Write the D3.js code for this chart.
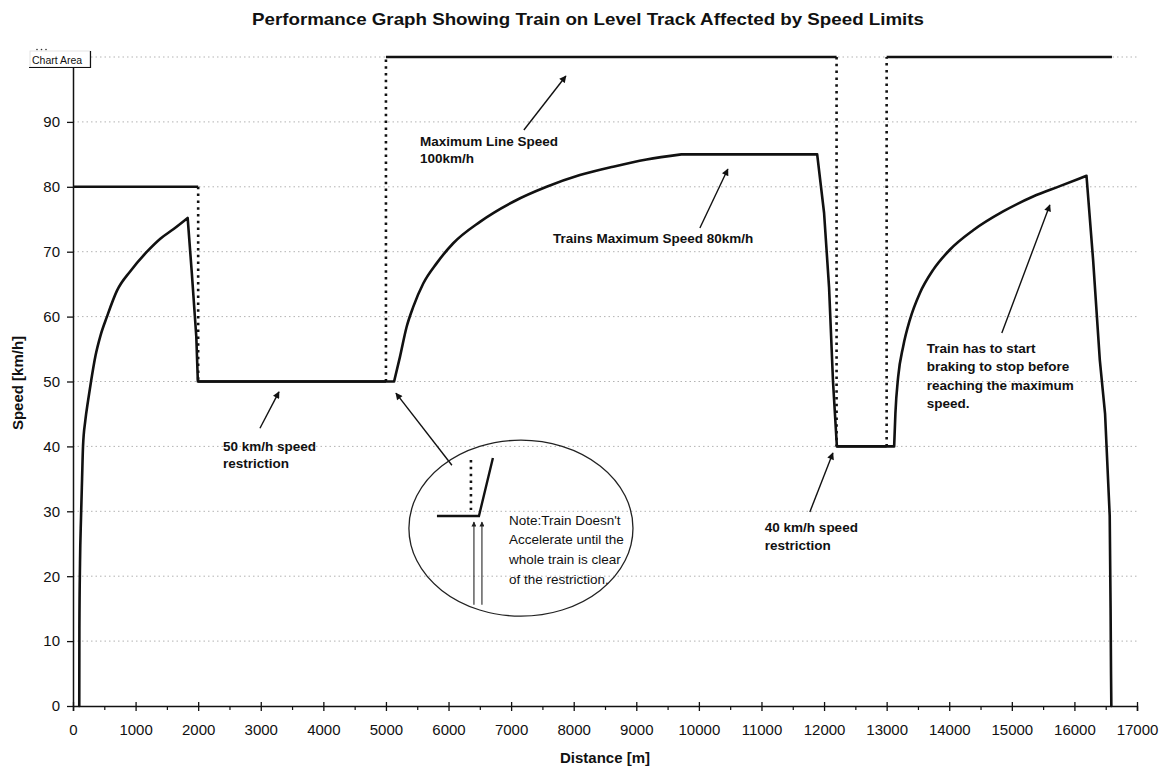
<!DOCTYPE html>
<html><head><meta charset="utf-8">
<script src="https://cdn.jsdelivr.net/npm/d3@7"></script>
<style>
body{margin:0;background:#fff}
svg{display:block}
text{font-family:Arial,"Liberation Sans",sans-serif;fill:#111}
</style>
</head><body>
<svg id="chart" width="1167" height="769"></svg>
<script>
// ---------- data ----------
const chartTitle = "Performance Graph Showing Train on Level Track Affected by Speed Limits";
const xTitle = "Distance [m]";
const yTitle = "Speed [km/h]";
const xTickValues = [0,1000,2000,3000,4000,5000,6000,7000,8000,9000,10000,11000,12000,13000,14000,15000,16000,17000];
const xMinorTicks = [500,1500,2500,3500,4500,5500,6500,7500,8500,9500,10500,11500,12500,13500,14500,15500,16500];
const yTickValues = [0,10,20,30,40,50,60,70,80,90];
const gridValues = [10,20,30,40,50,60,70,80,90,100];

// train speed profile
const trainDistance = [100,102,112,128,145,160,197,240,288,360,437,543,703,916,1182,1395,1608,1832,1900,1970,1995,
  5130,5224,5330,5436,5596,5809,6075,6502,7034,7567,8099,8631,9164,9720,11890,
  12000,12080,12143,12205,13120,13140,13184,13264,13371,13530,13743,14010,14382,14861,15340,15767,16193,
  16299,16406,16490,16564,16578,16585,16590];
const trainSpeed = [0,12,22,29,35,40,44,47,50,54,57,60,64,67,70,72,73.5,75.2,66.5,56.9,50,
  50,53.8,58.4,61.5,65.1,68.2,71.3,74.6,77.7,80,81.8,83.1,84.2,85,85,
  76,64.5,50,40,40,45.1,50.7,55.4,59.5,63.6,67.2,70.3,73.3,76.2,78.5,80.1,81.7,
  68.7,53.3,45,29.3,15,5,0];

// speed limit profile
const limitDistance = [0,2000,2000,5000,5000,12200,12200,13000,13000,16600];
const limitSpeed = [80,80,50,50,100,100,40,40,100,100];

// annotation texts
const noteLineSpeed = ["Maximum Line Speed","100km/h"];
const noteTrainMax = ["Trains Maximum Speed 80km/h"];
const note50 = ["50 km/h speed","restriction"];
const note40 = ["40 km/h speed","restriction"];
const noteBraking = ["Train has to start","braking to stop before","reaching the maximum","speed."];
const noteCircle = ["Note:Train Doesn't","Accelerate until the","whole train is clear","of the restriction."];

// ---------- drawing ----------
const svg = d3.select("#chart");
const x = d3.scaleLinear().domain([0,17000]).range([73,1137]);
const y = d3.scaleLinear().domain([0,100]).range([706,57]);

// arrow markers
const defs = svg.append("defs");
defs.append("marker").attr("id","ah").attr("viewBox","0 0 10 10")
  .attr("refX",9).attr("refY",5).attr("markerWidth",9).attr("markerHeight",7)
  .attr("markerUnits","userSpaceOnUse").attr("orient","auto")
  .append("path").attr("d","M0,0L10,5L0,10z").attr("fill","#111");
defs.append("marker").attr("id","ahs").attr("viewBox","0 0 10 10")
  .attr("refX",9).attr("refY",5).attr("markerWidth",6).attr("markerHeight",5)
  .attr("markerUnits","userSpaceOnUse").attr("orient","auto")
  .append("path").attr("d","M0,0L10,5L0,10z").attr("fill","#222");

// title
svg.append("text").attr("x",588).attr("y",25).attr("text-anchor","middle")
  .attr("font-size","17px").attr("font-weight","bold")
  .attr("textLength",672).attr("lengthAdjust","spacingAndGlyphs").text(chartTitle);

// gridlines
svg.append("g").selectAll("line").data(gridValues).join("line")
  .attr("x1",x(0)).attr("x2",x(17000)).attr("y1",d=>y(d)).attr("y2",d=>y(d))
  .attr("stroke","#b3b3b3").attr("stroke-width",1).attr("stroke-dasharray","1.5,3");

// axes
const axisFont = "Arial, 'Liberation Sans', sans-serif";
const gx = svg.append("g").attr("transform",`translate(0,${y(0)})`)
  .call(d3.axisBottom(x).tickValues(xTickValues).tickSize(5).tickPadding(13).tickFormat(d3.format("d")));
gx.selectAll(".tick line").attr("y1",-4);
gx.selectAll("text").attr("font-size","15px").attr("fill","#222").style("font-family",axisFont);
gx.select(".domain").attr("stroke","#111").attr("stroke-width",1.5);
gx.selectAll(".tick line").attr("stroke","#111").attr("stroke-width",1.3);
const gxm = svg.append("g").attr("transform",`translate(0,${y(0)})`)
  .call(d3.axisBottom(x).tickValues(xMinorTicks).tickSize(4).tickFormat(""));
gxm.select(".domain").remove();
gxm.selectAll(".tick line").attr("stroke","#111").attr("stroke-width",1.2);

const gy = svg.append("g").attr("transform",`translate(${x(0)},0)`)
  .call(d3.axisLeft(y).tickValues(yTickValues).tickSize(6).tickPadding(7).tickSizeOuter(0));
gy.selectAll("text").attr("font-size","15px").attr("fill","#222").style("font-family",axisFont);
gy.select(".domain").attr("stroke","#111").attr("stroke-width",1.5);
gy.selectAll(".tick line").attr("stroke","#111").attr("stroke-width",1.3);

// axis titles
svg.append("text").attr("x",605).attr("y",763).attr("text-anchor","middle")
  .attr("font-size","15px").attr("font-weight","bold").text(xTitle);
svg.append("text").attr("transform",`translate(23,383) rotate(-90)`).attr("text-anchor","middle")
  .attr("font-size","15px").attr("font-weight","bold").text(yTitle);

// speed limit: solid horizontals, dotted verticals
const limitPts = limitDistance.map((d,i)=>[d,limitSpeed[i]]);
const segs = d3.pairs(limitPts);
svg.append("g").selectAll("line").data(segs).join("line")
  .attr("x1",d=>x(d[0][0])).attr("y1",d=>y(d[0][1]))
  .attr("x2",d=>x(d[1][0])).attr("y2",d=>y(d[1][1]))
  .attr("stroke","#111")
  .attr("stroke-width",d=>d[0][1]===d[1][1]?2.4:2.6)
  .attr("stroke-dasharray",d=>d[0][1]===d[1][1]?null:"2.5,4.3");

// train line: split into monotone pieces so peaks/corners stay sharp
const trainPts = trainDistance.map((d,i)=>[d,trainSpeed[i]]);
const pieces = [];
let cur = [trainPts[0]], curSign = null;
for (let i = 1; i < trainPts.length; i++) {
  const s = Math.sign(trainPts[i][1] - trainPts[i-1][1]);
  if (curSign !== null && s !== curSign) { pieces.push({sign:curSign, pts:cur}); cur = [trainPts[i-1]]; }
  curSign = s; cur.push(trainPts[i]);
}
pieces.push({sign:curSign, pts:cur});
const smoothGen = d3.line().x(d=>x(d[0])).y(d=>y(d[1])).curve(d3.curveMonotoneX);
const straightGen = d3.line().x(d=>x(d[0])).y(d=>y(d[1]));
svg.append("path").attr("d", pieces.map(p=>(p.sign>0?smoothGen:straightGen)(p.pts)).join(""))
  .attr("fill","none").attr("stroke","#111").attr("stroke-width",2.6)
  .attr("stroke-linejoin","round").attr("stroke-linecap","round");

// annotation helpers
function note(lines, dx, sy, lh, opts={}){
  const t = svg.append("text").attr("font-size",opts.size||"13.5px")
    .attr("font-weight",opts.weight||"bold");
  lines.forEach((s,i)=>{
    t.append("tspan").attr("x",x(dx)).attr("y",y(sy)+4.8+i*lh).text(s);
  });
}
function arrow(d1,s1,d2,s2,small){
  svg.append("line").attr("x1",x(d1)).attr("y1",y(s1)).attr("x2",x(d2)).attr("y2",y(s2))
    .attr("stroke","#111").attr("stroke-width",small?1:1.4)
    .attr("marker-end",small?"url(#ahs)":"url(#ah)");
}

note(noteLineSpeed,5543,87.1,17.5);
arrow(7204,88.75,7875,97.07);
note(noteTrainMax,7668,72.1,18);
arrow(10016,73.65,10463,82.74);
note(note50,2396,40.06,17.5);
arrow(2987,42.8,3291,48.4);
note(note40,11054,27.58,18);
arrow(11773,29.9,12141,38.98);
note(noteBraking,13642,55.16,18.5);
arrow(14840,57.47,15607,77.2);

// circled note
arrow(6054,37.1,5160,48.2);
svg.append("ellipse").attr("cx",x(7157)).attr("cy",y(27.4))
  .attr("rx",x(1790)-x(0)).attr("ry",y(0)-y(13.56))
  .attr("fill","none").attr("stroke","#222").attr("stroke-width",1.3);
const miniPts = [[5815,29.28],[6486,29.28],[6709,38.2]];
svg.append("path").datum(miniPts)
  .attr("d",d3.line().x(d=>x(d[0])).y(d=>y(d[1])))
  .attr("fill","none").attr("stroke","#111").attr("stroke-width",2.4);
svg.append("line").attr("x1",x(6358)).attr("x2",x(6358)).attr("y1",y(37.9)).attr("y2",y(30.2))
  .attr("stroke","#111").attr("stroke-width",2.6).attr("stroke-dasharray","2.5,4.3");
arrow(6406,15.6,6406,28.35,true);
arrow(6534,15.6,6534,28.35,true);
note(noteCircle,6965,28.66,19.6,{weight:"normal",size:"13.5px"});

// "Chart Area" tooltip
const tip = svg.append("g");
tip.append("rect").attr("x",30).attr("y",51).attr("width",60).attr("height",16)
  .attr("fill","#fff").attr("stroke","#ddd").attr("stroke-width",0.8);
tip.append("path").attr("d","M29,67.5H90.5V51").attr("fill","none").attr("stroke","#111").attr("stroke-width",1.2);
tip.append("text").attr("x",32).attr("y",64).attr("font-size","10.5px").text("Chart Area");
tip.selectAll("circle").data([0,1,2]).join("circle")
  .attr("cx",(d,i)=>37+i*4.5).attr("cy",49.5).attr("r",0.8).attr("fill","#333");
</script>
</body></html>
